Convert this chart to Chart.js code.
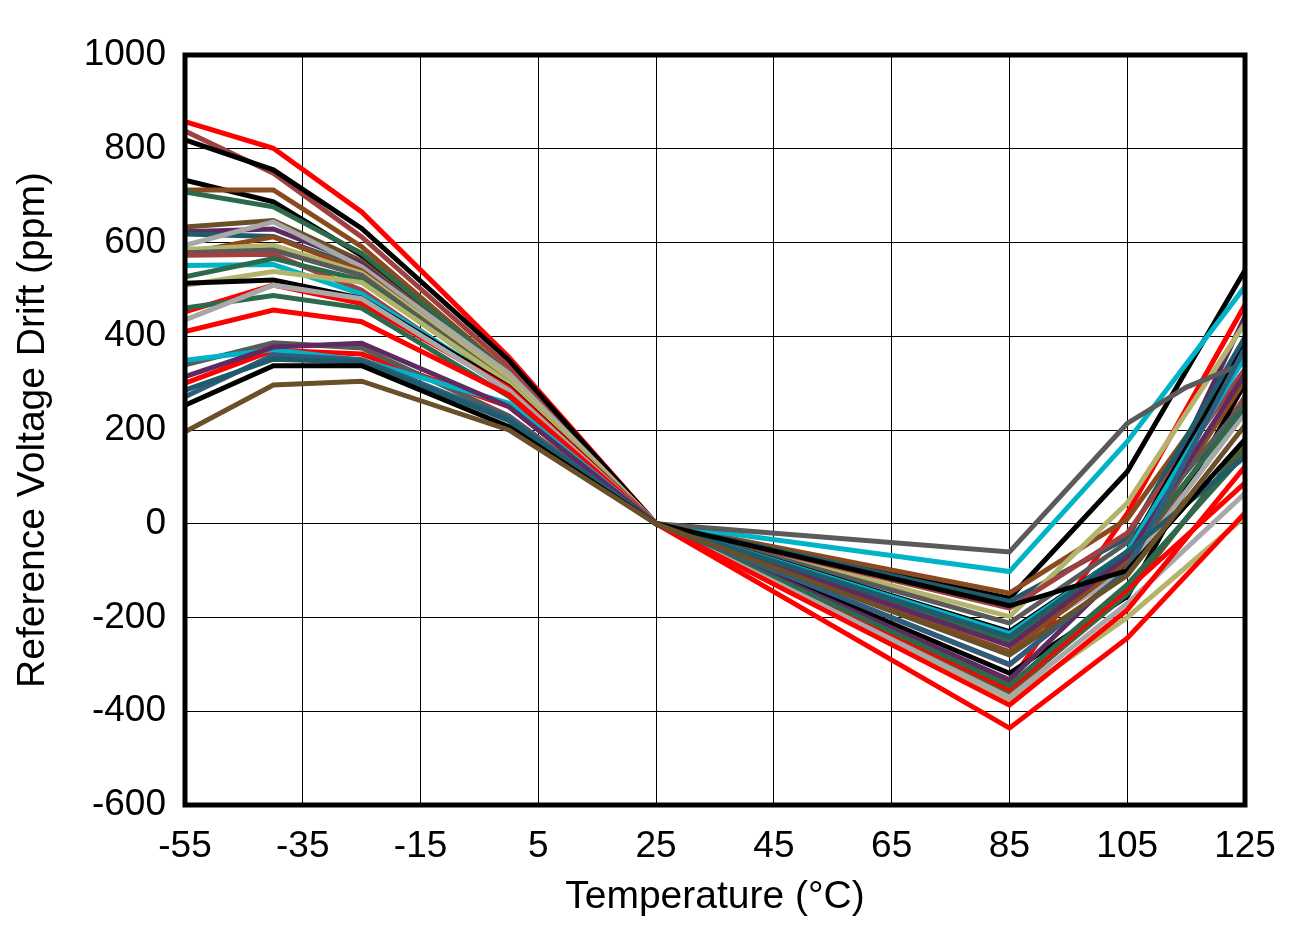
<!DOCTYPE html>
<html>
<head>
<meta charset="utf-8">
<title>Reference Voltage Drift vs Temperature</title>
<script src="https://cdn.jsdelivr.net/npm/chart.js@4.4.1/dist/chart.umd.min.js"></script>
<style>
  html, body { margin: 0; padding: 0; background: #fff; }
  canvas { display: block; }
</style>
</head>
<body>
<canvas id="driftChart" width="1306" height="927"></canvas>
<script>
// measurement temperatures (°C); 115 only used by one unit
const temps = [-55, -40, -25, 0, 25, 85, 105, 115, 125];
const xTicks = [-55, -35, -15, 5, 25, 45, 65, 85, 105, 125];

// drift per unit (ppm)
const red1     = [858, 801, 665, 355, 0, -340,   22, null, 467];
const red2     = [452, 509, 470, 290, 0, -352, -140, null,  87];
const red3     = [410, 456, 431, 275, 0, -387, -184, null, 122];
const red4     = [300, 370, 362, 250, 0, -436, -244, null,  23];
const black1   = [819, 755, 630, 349, 0, -159,  111, null, 541];
const black2   = [733, 687, 572, 318, 0, -319, -155, null, 300];
const black3   = [513, 520, 481, 292, 0, -230,  -60, null, 380];
const black4   = [253, 337, 337, 207, 0, -175, -100, null, 180];
const rust1    = [838, 748, 612, 335, 0, -301, -100, null, 271];
const rust2    = [573, 575, 498, 282, 0, -180,  -20, null, 330];
const brown1   = [712, 712, 591, 322, 0, -148,   10, null, 360];
const brown2   = [577, 612, 540, 302, 0, -273,  -80, null, 307];
const green1   = [708, 676, 577, 320, 0, -358, -150, null, 172];
const green2   = [527, 566, 520, 296, 0, -250,  -70, null, 250];
const green3   = [460, 487, 460, 272, 0, -345, -130, null, 150];
const olive1   = [633, 647, 560, 310, 0, -362, -140, null, 160];
const olive2   = [196, 296, 304, 200, 0, -280, -110, null, 210];
const purple1  = [623, 629, 555, 305, 0, -333,  -90, null, 442];
const purple2  = [314, 377, 385, 250, 0, -260,  -70, null, 320];
const teal1    = [618, 613, 545, 300, 0, -166,  -30, null, 398];
const teal2    = [285, 351, 345, 220, 0, -241,  -60, null, 143];
const slate1   = [271, 360, 350, 225, 0, -300, -100, null, 375];
const gray1    = [594, 644, 548, 321, 0, -259,  -98, null, 236];
const gray2    = [435, 509, 480, 285, 0, -370, -170, null,  65];
const khaki1   = [585, 594, 535, 310, 0, -198,   44, null, 428];
const khaki2   = [509, 538, 515, 300, 0, -376, -200, null,  15];
const dgray1   = [339, 386, 375, 230, 0,  -60,  214,  291, 343];
const dgray2   = [578, 584, 530, 300, 0, -212,  -40, null, 260];
const cyan1    = [551, 553, 490, 290, 0, -102,  175, null, 506];
const cyan2    = [349, 371, 349, 257, 0, -234,  -60, null, 356];

const units = [
  [olive2, '#6A5028'], [black4, '#000000'], [teal2, '#1E5B6B'], [slate1, '#2E5E7E'],
  [purple2, '#5F2A61'], [cyan2, '#00B4C8'], [dgray1, '#5A5A5A'], [red4, '#FF0000'],
  [red3, '#FF0000'], [gray2, '#A8A8A8'], [green3, '#2D6A4B'], [red2, '#FF0000'],
  [black3, '#000000'], [khaki2, '#B3B36B'], [green2, '#2D6A4B'], [cyan1, '#00B4C8'],
  [rust2, '#A04040'], [dgray2, '#5A5A5A'], [khaki1, '#B3B36B'], [brown2, '#8A4A1F'],
  [gray1, '#A8A8A8'], [teal1, '#1E5B6B'], [purple1, '#5F2A61'], [olive1, '#6A5028'],
  [green1, '#2D6A4B'], [brown1, '#8A4A1F'], [black2, '#000000'], [black1, '#000000'],
  [rust1, '#A04040'], [red1, '#FF0000']
];

const family = "'Liberation Sans', Arial, sans-serif";
const tickFont = { family, size: 37 };
const titleFont = { family, size: 39 };

const framePlugin = {
  id: 'frame',
  afterDatasetsDraw(chart) {
    const { ctx, chartArea: a } = chart;
    ctx.save();
    ctx.strokeStyle = '#000';
    ctx.lineWidth = 5;
    ctx.strokeRect(a.left, a.top, a.right - a.left, a.bottom - a.top);
    ctx.restore();
  }
};

new Chart(document.getElementById('driftChart'), {
  type: 'line',
  data: {
    datasets: units.map(([vals, color], i) => ({
      label: 'Unit ' + (i + 1),
      data: temps.map((t, k) => ({ x: t, y: vals[k] })),
      borderColor: color,
      borderWidth: 5,
      pointRadius: 0,
      tension: 0,
      spanGaps: true
    }))
  },
  options: {
    responsive: false,
    animation: false,
    layout: { padding: { top: 55, right: 61, left: 0, bottom: 0 } },
    plugins: { legend: { display: false }, tooltip: { enabled: false } },
    scales: {
      x: {
        type: 'linear',
        min: -55,
        max: 125,
        afterBuildTicks: s => { s.ticks = xTicks.map(v => ({ value: v })); },
        afterFit: s => { s.height = 122; },
        ticks: { font: tickFont, color: '#000', padding: 20, maxRotation: 0, autoSkip: false,
                 callback: v => String(v) },
        grid: { color: '#000', lineWidth: 1, drawTicks: false },
        border: { display: false },
        title: { display: true, text: 'Temperature (°C)', font: titleFont, color: '#000',
                 padding: { top: 0, bottom: 6 } }
      },
      y: {
        min: -600,
        max: 1000,
        afterFit: s => { s.width = 185; },
        ticks: { font: tickFont, color: '#000', padding: 19, stepSize: 200,
                 callback: v => String(v) },
        grid: { color: '#000', lineWidth: 1, drawTicks: false },
        border: { display: false },
        title: { display: true, text: 'Reference Voltage Drift (ppm)', font: titleFont, color: '#000',
                 padding: { top: 10, bottom: 0 } }
      }
    }
  },
  plugins: [framePlugin]
});
</script>
</body>
</html>
